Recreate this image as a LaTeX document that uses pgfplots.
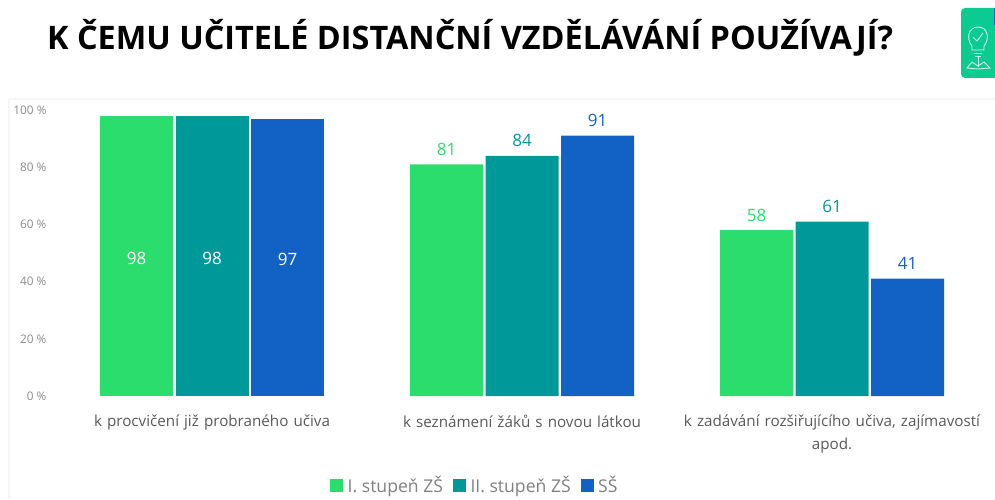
\documentclass[border=0pt]{standalone}
\usepackage{pgfplots}
\pgfplotsset{compat=1.18}
\usepackage{fontspec}
\setmainfont{Open Sans}
\definecolor{cA}{HTML}{2BDD6D}
\definecolor{cB}{HTML}{009999}
\definecolor{cC}{HTML}{1162C4}
\definecolor{icon}{HTML}{0CCB90}
\definecolor{lbl}{HTML}{595959}
\definecolor{tck}{HTML}{8C8C8C}
\definecolor{leg}{HTML}{808080}
\definecolor{frm}{HTML}{F6F6F6}
\begin{document}
\begin{tikzpicture}[x=1pt,y=1pt]
\useasboundingbox (0,0) rectangle (995,499);
% frame of the plot panel
\draw[frm,line width=2pt] (9,0) -- (9,400);
\draw[frm,line width=2pt] (9,400) -- (995,400);
% title
\node[anchor=west,inner sep=0pt] at (47,461.5) {\fontsize{32.4}{34}\selectfont\bfseries K ČEMU UČITELÉ DISTANČNÍ VZDĚLÁVÁNÍ POUŽÍVAJÍ?};
% icon
\begin{scope}
\clip (0,0) rectangle (995,499);
\fill[icon,rounded corners=4pt] (961,421) rectangle (1005,491);
\fill[cC] (994,474) rectangle (995,491);
\begin{scope}[white!80!icon,line width=0.9pt]
\draw (972,453) .. controls (966,460) and (968,472) .. (978,472) .. controls (988,472) and (990,460) .. (984,453) -- (984,449) -- (972,449) -- cycle;
\draw (973,462) -- (977,458) -- (983,466);
\draw (974,446) -- (982,446) (975,443) -- (981,443) (978,443) -- (978,432);
\draw (967,431) -- (972,437) -- (978,433) -- (984,437) -- (990,431) -- (978,430) -- cycle;
\end{scope}
\end{scope}
\begin{axis}[
  at={(50pt,103pt)}, anchor=south west,
  scale only axis, width=935pt, height=286pt,
  xmin=-0.5226, xmax=2.4935, ymin=0, ymax=100,
  clip=false,
  /pgf/number format/assume math mode=true,
  axis line style={draw=none},
  tick style={draw=none},
  xtick={0,1,2},
  xticklabels={k procvičení již probraného učiva,k seznámení žáků s novou látkou,{k zadávání rozšiřujícího učiva, zajímavostí\\apod.}},
  xticklabel style={font=\fontsize{15.2}{23}\selectfont,text=lbl,align=center,text width=340pt,anchor=north},
  x tick label style={yshift=-11pt},
  ytick={0,20,40,60,80,100},
  yticklabel={\pgfmathprintnumber{\tick} \%},
  yticklabel style={font=\fontsize{11.8}{13}\selectfont,text=tck},
  legend columns=3,
  legend cell align=left,
  legend style={draw=none,fill=none,at={(280pt,-89pt)},anchor=west,
    font=\fontsize{17.6}{20}\selectfont,text=leg,inner sep=0pt,
    /tikz/every even column/.append style={column sep=8pt},
    /tikz/every odd column/.append style={column sep=2.5pt}},
  ybar, bar width=73pt,
  nodes near coords,
  every node near coord/.append style={font=\fontsize{17}{20}\selectfont,anchor=center,yshift=15pt},
]
% Groups 2 and 3 (labels above the bars), carrying the legend
\addplot[draw=none,fill=cA,bar shift=-75.5pt,
  legend image code/.code={\fill[cA] (0pt,-6.5pt) rectangle (13pt,6.5pt);},
  every node near coord/.append style={text=cA}]
  coordinates {(1,81) (2,58)};
\addlegendentry{I. stupeň ZŠ}
\addplot[draw=none,fill=cB,bar shift=0pt,
  legend image code/.code={\fill[cB] (0pt,-6.5pt) rectangle (13pt,6.5pt);},
  every node near coord/.append style={text=cB}]
  coordinates {(1,84) (2,61)};
\addlegendentry{II. stupeň ZŠ}
\addplot[draw=none,fill=cC,bar shift=75.5pt,
  legend image code/.code={\fill[cC] (0pt,-6.5pt) rectangle (13pt,6.5pt);},
  every node near coord/.append style={text=cC}]
  coordinates {(1,91) (2,41)};
\addlegendentry{SŠ}
% Group 1 (white labels in the middle of the bars)
\addplot[forget plot,draw=none,fill=cA,bar shift=-75.5pt,
  every node near coord/.append style={text=white,yshift=-158pt}]
  coordinates {(0,98)};
\addplot[forget plot,draw=none,fill=cB,bar shift=0pt,
  every node near coord/.append style={text=white,yshift=-158pt}]
  coordinates {(0,98)};
\addplot[forget plot,draw=none,fill=cC,bar shift=75.5pt,
  every node near coord/.append style={text=white,yshift=-156pt}]
  coordinates {(0,97)};
\end{axis}
\end{tikzpicture}
\end{document}
